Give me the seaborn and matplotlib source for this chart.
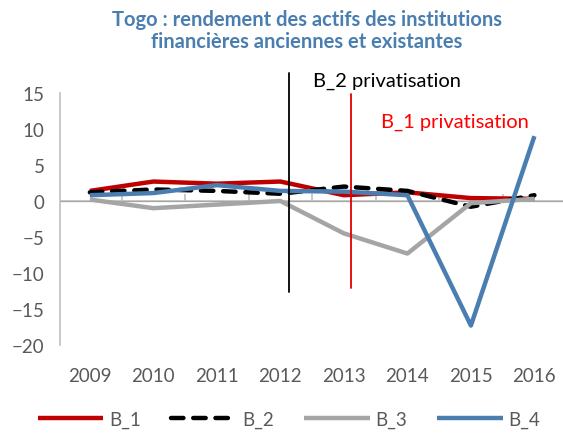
import pandas as pd
import numpy as np
import matplotlib
matplotlib.use('Agg')
import matplotlib.pyplot as plt
import seaborn as sns

# Data
years = ['2009', '2010', '2011', '2012', '2013', '2014', '2015', '2016']
b1 = [1.4, 2.7, 2.4, 2.7, 0.8, 1.2, 0.4, 0.3]
b2 = [1.2, 1.6, 1.4, 1.0, 2.0, 1.4, -0.8, 0.8]
b3 = [0.2, -1.0, -0.5, 0.0, -4.5, -7.3, -0.3, 0.3]
b4 = [0.8, 1.1, 2.2, 1.4, 1.3, 0.8, -17.3, 9.0]
series_names = ['B_1', 'B_2', 'B_3', 'B_4']

df = pd.DataFrame({'Year': years * 4,
                   'Value': b1 + b2 + b3 + b4,
                   'Serie': np.repeat(series_names, len(years))})
df['pos'] = df['Year'].map({y: i for i, y in enumerate(years)})

sns.set_style('white')
plt.rcParams['font.family'] = ['Lato', 'DejaVu Sans']
txt_col = '#595959'
axis_col = '#BFBFBF'
fs = 13.5

fig = plt.figure(figsize=(5.63, 4.35), dpi=100)
ax = fig.add_axes([0.1066, 0.2046, 0.8934, 0.5794])

palette = {'B_1': '#C00000', 'B_2': '#000000', 'B_3': '#A5A5A5', 'B_4': '#4A7EB0'}
sns.lineplot(data=df, x='pos', y='Value', hue='Serie', style='Serie', palette=palette,
             dashes={'B_1': '', 'B_2': (2.8, 2.2), 'B_3': '', 'B_4': ''},
             linewidth=3.2, ax=ax, legend=True)
for ln in ax.get_lines():
    ln.set_dash_capstyle('round')
    ln.set_solid_capstyle('butt')

ax.set_xlim(-0.47, 7.45)
ax.set_ylim(-20, 15)
ax.set_yticks(np.arange(-20, 16, 5))
ax.set_xticks(range(len(years)))
ax.set_xticklabels(years)
ax.set_xlabel('')
ax.set_ylabel('')

for s in ['top', 'right', 'bottom']:
    ax.spines[s].set_visible(False)
ax.spines['left'].set_color(axis_col)
ax.spines['left'].set_linewidth(1.2)
ax.tick_params(axis='y', direction='in', length=5, color=axis_col, width=1.2,
               labelsize=fs, labelcolor=txt_col, pad=11)
ax.tick_params(axis='x', length=0, labelsize=fs, labelcolor=txt_col, pad=16)

# zero line with category boundary ticks
ax.axhline(0, color=axis_col, lw=1.2, zorder=1)
sec = ax.secondary_xaxis(20 / 35)
sec.spines['bottom'].set_visible(False)
sec.set_xticks(np.arange(0.5, 7, 1))
sec.tick_params(axis='x', direction='in', length=5, color=axis_col, width=1.2,
                labelbottom=False, labeltop=False, top=False, bottom=True)

# privatisation markers
ax.plot([3.14, 3.14], [17.8, -12.6], color='black', lw=1.3, clip_on=False)
ax.plot([4.11, 4.11], [14.9, -12.1], color='#E00000', lw=1.3, clip_on=False)
ax.text(3.51, 16.7, 'B_2 privatisation', color='black', fontsize=14.5, va='center')
ax.text(4.58, 11.1, 'B_1 privatisation', color='#FF0000', fontsize=14.5, va='center')

fig.text(0.545, 0.978, 'Togo : rendement des actifs des institutions\nfinancières anciennes et existantes',
         ha='center', va='top', fontsize=14.5, fontweight='bold', color='#4A7EB0',
         linespacing=1.15)

handles, labels = ax.get_legend_handles_labels()
ax.legend(handles, labels, loc='center', bbox_to_anchor=(0.455, -0.295), ncol=4, frameon=False,
          handlelength=3.5, handletextpad=0.3, columnspacing=1.6, fontsize=fs,
          labelcolor=txt_col)

fig.savefig('out.png', dpi=100)
